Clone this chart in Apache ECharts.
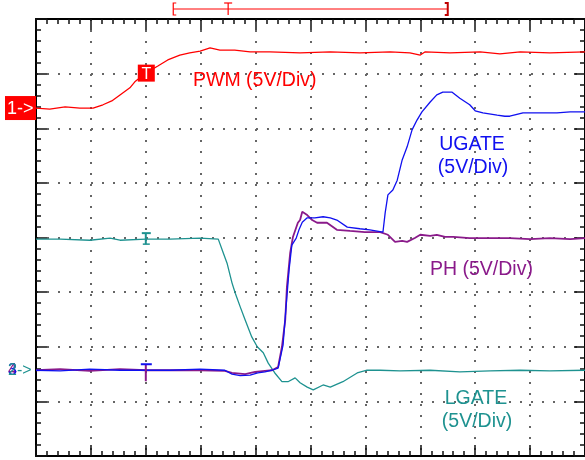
<!DOCTYPE html>
<html><head><meta charset="utf-8">
<script src="https://cdn.jsdelivr.net/npm/echarts@6.0.0/dist/echarts.min.js"></script>
<style>html,body{margin:0;padding:0;background:#fff}#c{width:585px;height:460px}</style>
</head><body><div id="c"></div>
<script>
// Units: horizontal and vertical screen divisions (10 x 8), 5V/Div
const pwmT = [0,0.25,0.53,0.8,1.04,1.22,1.38,1.53,1.71,1.8,2.0,2.22,2.4,2.62,2.8,2.99,3.17,3.35,3.62,3.9,4.26,4.81,5.36,5.9,6.45,6.81,7.0,7.09,7.54,8.09,8.45,8.82,9.36,10];
const pwmV = [6.37,6.35,6.39,6.37,6.37,6.43,6.5,6.61,6.74,6.85,7.01,7.14,7.25,7.34,7.38,7.41,7.47,7.43,7.43,7.4,7.4,7.38,7.4,7.38,7.4,7.38,7.34,7.4,7.38,7.4,7.36,7.4,7.38,7.4];

const ugT = [0,0.44,0.98,1.53,2.0,2.44,2.99,3.44,3.57,3.72,3.9,4.04,4.17,4.3,4.41,4.5,4.55,4.61,4.66,4.74,4.79,4.85,4.94,5.08,5.23,5.36,5.48,5.67,5.9,6.08,6.32,6.36,6.41,6.5,6.58,6.67,6.76,6.85,6.94,7.03,7.18,7.3,7.41,7.58,7.72,7.9,8.0,8.14,8.4,8.54,8.63,8.87,9.18,9.49,9.73,10];
const ugV = [1.57,1.56,1.59,1.57,1.57,1.57,1.59,1.57,1.5,1.47,1.48,1.52,1.54,1.57,1.61,2.03,2.67,3.41,3.86,3.99,4.14,4.28,4.36,4.36,4.38,4.36,4.32,4.19,4.16,4.14,4.1,4.45,4.78,4.87,5.05,5.42,5.66,5.97,6.15,6.3,6.48,6.61,6.66,6.66,6.55,6.43,6.32,6.28,6.24,6.22,6.22,6.28,6.28,6.28,6.3,6.3];

const phT = [0,0.44,0.98,1.53,2.0,2.53,2.99,3.44,3.57,3.81,3.99,4.17,4.3,4.41,4.48,4.54,4.57,4.63,4.68,4.77,4.81,4.85,4.94,5.03,5.12,5.3,5.48,5.72,5.99,6.27,6.41,6.54,6.67,6.76,6.9,7.0,7.18,7.3,7.45,7.6,7.9,8.27,8.63,9.0,9.36,9.73,10];
const phV = [1.57,1.59,1.56,1.59,1.57,1.57,1.57,1.56,1.52,1.5,1.54,1.56,1.57,1.63,2.0,2.49,3.09,3.72,4.01,4.27,4.32,4.47,4.41,4.32,4.27,4.27,4.14,4.12,4.1,4.1,4.05,3.92,3.94,3.92,3.99,4.05,4.03,4.05,4.01,4.01,3.99,3.99,3.99,3.97,3.99,3.97,3.99];

const lgT = [0,0.44,0.98,1.35,1.53,2.0,2.44,2.99,3.32,3.35,3.41,3.48,3.57,3.63,3.72,3.81,3.93,4.03,4.14,4.23,4.35,4.48,4.59,4.72,4.81,4.94,5.05,5.23,5.36,5.59,5.85,6.03,6.27,6.63,7.18,7.72,8.27,8.82,9.36,10];
const lgV = [3.97,3.97,3.95,3.99,3.95,3.97,3.97,3.99,3.97,3.95,3.72,3.53,3.17,2.98,2.73,2.49,2.18,2.0,1.89,1.7,1.52,1.36,1.36,1.43,1.34,1.26,1.21,1.3,1.26,1.36,1.52,1.57,1.57,1.56,1.57,1.54,1.56,1.57,1.56,1.57];

const ch1Ground = 6.37, ch2Ground = 1.57, trigTime = 2.0, trigLevel = 7.0;
const lgAtTrig = 3.97;
const memWindow = [2.5, 7.5], memTrig = 3.5;

const RED = '#ff0000', BLUE = '#1010f0', PURPLE = '#8a1a8a', TEAL = '#1e9290';
const FONT = '"Liberation Sans", Arial, sans-serif';

const pairs = (xs, ys) => xs.map((x, i) => [x, ys[i]]);

const chart = echarts.init(document.getElementById('c'), null, {renderer: 'canvas'});

function axisCommon(pos, split) {
  return {
    type: 'value', position: pos, min: 0,
    axisLine: {show: true, onZero: false, lineStyle: {color: '#000', width: 2}},
    axisTick: {show: true, inside: true, length: 11, lineStyle: {color: '#111', width: 1.5}},
    minorTick: {show: true, splitNumber: 5, length: 5, lineStyle: {color: '#111', width: 1.5}},
    axisLabel: {show: false},
    splitLine: {show: split, showMinLine: false, showMaxLine: false,
      lineStyle: {color: '#666', width: 2, type: [2, 9], dashOffset: 0}},
    minorSplitLine: {show: false}
  };
}

const option = {
  animation: false,
  backgroundColor: '#fff',
  grid: {left: 36, right: 0, top: 19, bottom: 4, containLabel: false, outerBoundsMode: 'none'},
  xAxis: [
    Object.assign(axisCommon('bottom', true), {max: 10, interval: 1}),
    Object.assign(axisCommon('top', false), {max: 10, interval: 1})
  ],
  yAxis: [
    Object.assign(axisCommon('left', true), {max: 8, interval: 1}),
    Object.assign(axisCommon('right', false), {max: 8, interval: 1})
  ],
  series: [
    {name: 'LGATE', type: 'line', data: pairs(lgT, lgV), showSymbol: false, z: 2,
      lineStyle: {color: TEAL, width: 1.3}},
    {name: 'PH', type: 'line', data: pairs(phT, phV), showSymbol: false, z: 3,
      lineStyle: {color: PURPLE, width: 1.8}},
    {name: 'UGATE', type: 'line', data: pairs(ugT, ugV), showSymbol: false, z: 4,
      lineStyle: {color: BLUE, width: 1.3}},
    {name: 'PWM', type: 'line', data: pairs(pwmT, pwmV), showSymbol: false, z: 5,
      lineStyle: {color: RED, width: 1.3}}
  ]
};
chart.setOption(option);

const px = (x, y) => chart.convertToPixel({xAxisIndex: 0, yAxisIndex: 0}, [x, y]);
const g1 = px(0, ch1Ground), g2 = px(0, ch2Ground), tr = px(trigTime, trigLevel);
const tI = px(trigTime, lgAtTrig), tT = px(trigTime, ch2Ground);
const mL = px(memWindow[0], 0)[0], mR = px(memWindow[1], 0)[0], mT = px(memTrig, 0)[0];

function txt(text, x, y, color, size, align) {
  return {type: 'text', z: 100, style: {text, x, y, fill: color, font: size + 'px ' + FONT,
    textAlign: align || 'left', textVerticalAlign: 'middle'}};
}
function ln(x1, y1, x2, y2, color, w) {
  return {type: 'line', z: 100, shape: {x1, y1, x2, y2}, style: {stroke: color, lineWidth: w || 1}};
}

const graphics = [
  // channel 1 ground marker
  {type: 'rect', z: 100, shape: {x: 5, y: g1[1] - 12, width: 31, height: 24}, style: {fill: RED}},
  txt('1->', 7, g1[1] + 1, '#fff', 18),
  // channel 2/3/4 ground markers (overlapping)
  txt('4', 8, g2[1], PURPLE, 16),
  txt('3', 8, g2[1], BLUE, 16),
  txt('2->', 8, g2[1], TEAL, 16),
  // trigger box
  {type: 'rect', z: 100, shape: {x: tr[0] - 8, y: tr[1] - 9, width: 17, height: 17}, style: {fill: RED}},
  txt('T', tr[0] + 0.5, tr[1] + 0.5, '#fff', 16, 'center'),
  // teal I marker
  ln(tI[0], tI[1] - 6, tI[0], tI[1] + 5, TEAL, 2),
  ln(tI[0] - 4, tI[1] - 6, tI[0] + 5, tI[1] - 6, TEAL, 2),
  ln(tI[0] - 3, tI[1] + 5, tI[0] + 4, tI[1] + 5, TEAL, 1.5),
  // blue/purple T marker
  ln(tT[0], tT[1] - 6, tT[0], tT[1] + 11, PURPLE, 2),
  ln(tT[0] - 5, tT[1] - 6, tT[0] + 6, tT[1] - 6, BLUE, 2),
  // memory window bracket at top
  ln(mL, 9, mR, 9, RED, 1),
  {type: 'polyline', z: 100, shape: {points: [[mL + 3, 3], [mL, 3], [mL, 15], [mL + 3, 15]]}, style: {stroke: RED, lineWidth: 1.2, fill: null}},
  {type: 'polyline', z: 100, shape: {points: [[mR - 3, 3], [mR, 3], [mR, 15], [mR - 3, 15]]}, style: {stroke: '#c00000', lineWidth: 2, fill: null}},
  ln(mT - 4, 3, mT + 4, 3, RED, 1.2),
  ln(mT, 3, mT, 15, RED, 1.2),
  // labels
  txt('PWM (5V/Div)', 193, 81, RED, 19.5),
  txt('UGATE', 472, 145, BLUE, 19.5, 'center'),
  txt('(5V/Div)', 473, 168, BLUE, 19.5, 'center'),
  txt('PH (5V/Div)', 430, 270, PURPLE, 19.5),
  txt('LGATE', 476, 399, TEAL, 19.5, 'center'),
  txt('(5V/Div)', 477, 422, TEAL, 19.5, 'center')
];
chart.setOption({graphic: graphics});
</script>
</body></html>
